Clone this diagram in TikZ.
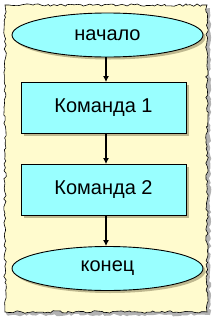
\documentclass[tikz,border=0pt]{standalone}
\usepackage{fontspec}
\setmainfont{Liberation Sans}
\usetikzlibrary{shapes.geometric,arrows.meta,decorations.pathmorphing,shadows}
\definecolor{paper}{RGB}{255,251,206}
\definecolor{cyanfill}{RGB}{153,255,255}
\definecolor{shade}{RGB}{175,168,128}
\tikzset{
  x=1pt,y=-1pt,
  term/.style={ellipse,draw=black,line width=0.9pt,fill=cyanfill,minimum width=191pt,minimum height=44pt,inner sep=0pt,font=\fontsize{20}{22}\selectfont,
    drop shadow={shadow xshift=2.5pt,shadow yshift=-2.5pt,fill=shade,opacity=0.8}},
  cmd/.style={rectangle,draw=black,line width=0.9pt,fill=cyanfill,minimum width=165pt,minimum height=51pt,inner sep=0pt,font=\fontsize{20}{22}\selectfont,
    drop shadow={shadow xshift=2.5pt,shadow yshift=-2.5pt,fill=shade,opacity=0.8}},
  flow/.style={line width=1.1pt,-{Latex[length=6pt,width=6pt]}}
}
\begin{document}
\begin{tikzpicture}
\useasboundingbox (0,0) rectangle (213,319);
\fill[white] (0,0) rectangle (213,319);
\pgfmathsetseed{7}
% torn paper shadow
\fill[gray!60,decorate,decoration={random steps,segment length=3pt,amplitude=1.3pt}]
  (7,8) -- (210,8) -- (210,315) -- (7,315) -- cycle;
% torn paper
\pgfmathsetseed{11}
\filldraw[fill=paper,draw=black,line width=0.6pt,decorate,decoration={random steps,segment length=3pt,amplitude=1.3pt}]
  (5,5) -- (207,5) -- (207,312) -- (5,312) -- cycle;
\node[term] (start) at (107.5,35) {начало};
\node[cmd] (c1) at (103.5,108) {Команда 1};
\node[cmd] (c2) at (103.5,190) {Команда 2};
\node[term] (end) at (107.5,268.5) {конец};
\draw[flow] (start.south -| 106,0) -- (c1.north -| 106,0);
\draw[flow] (c1.south -| 106,0) -- (c2.north -| 106,0);
\draw[flow] (c2.south -| 106,0) -- (end.north -| 106,0);
\end{tikzpicture}
\end{document}
